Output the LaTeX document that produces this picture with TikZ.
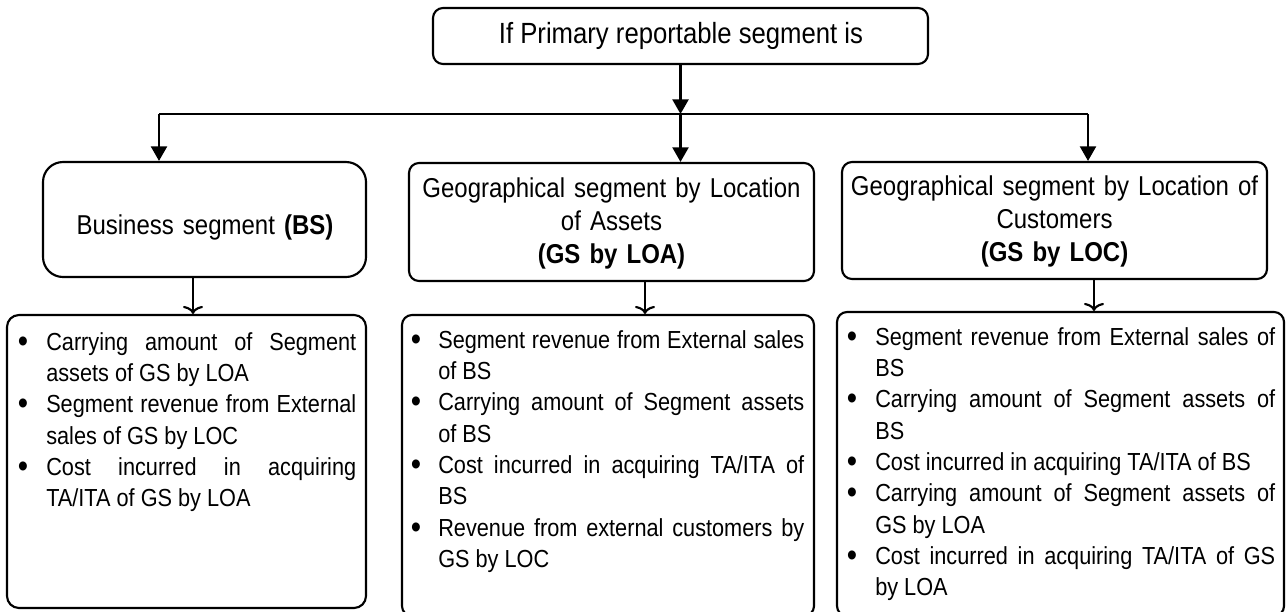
\documentclass[tikz,border=0pt]{standalone}
\usepackage{fontspec}
\setmainfont{Liberation Sans}[FakeStretch=0.88]
\usetikzlibrary{arrows.meta,fit}
\newlength\bind
\newcommand\lstsetup[1]{\hyphenpenalty=10000 \tolerance=10000 \parindent=0pt \parskip=0pt \setlength\bind{#1}}
\newcommand\bigbul{\raisebox{-0.09em}{\scalebox{1.35}{\textbullet}}}
\newcommand\myitem[1]{\hangindent=\bind\hangafter=1\noindent\makebox[\bind][l]{\hspace{2pt}\bigbul}#1\par}
\begin{document}
\begin{tikzpicture}[x=0.75pt,y=-0.75pt,
  box/.style={draw, line width=1.6pt, inner sep=0pt, rounded corners=7.5pt},
  ln/.style={line width=1.9pt},
  arr/.style={line width=1.9pt, -{Triangle[width=12pt,length=11pt]}},
  oarr/.style={line width=1.6pt, -{Computer Modern Rightarrow[width=15pt,length=6pt]}},
  toptext/.style={inner sep=0pt, font=\fontsize{21.9pt}{26pt}\selectfont},
  ttl/.style={inner sep=0pt, align=center, font=\fontsize{20.45pt}{25pt}\selectfont},
  lst/.style={inner sep=0pt, anchor=base west, align=justify,
    font=\fontsize{18.5pt}{23.5pt}\selectfont}
]
\useasboundingbox (0,0) rectangle (1287,611);

% top box
\node[box, fit={(433,8) (928,64)}] (top) {};
\node[toptext, anchor=base] (toptxt) at (681,43) {If Primary reportable segment is};

% second row boxes
\node[box, rounded corners=15pt, fit={(43,162) (366,277)}] (b1) {};
\node[box, fit={(409,163) (814,281)}] (b2) {};
\node[box, fit={(842,162) (1267,279)}] (b3) {};
\node[ttl, anchor=base, text width=300pt] (t1) at (205,234) {Business segment \textbf{(BS)}};
\node[ttl, anchor=base, text width=292pt] (t2) at (611.5,197) {Geographical segment by Location\\ of Assets\\ \textbf{(GS by LOA)}};
\node[ttl, anchor=base, text width=307pt] (t3) at (1054.5,195) {Geographical segment by Location of\\ Customers\\ \textbf{(GS by LOC)}};

% third row boxes
\node[box, rounded corners=9pt, fit={(7,315) (366,608)}] (b4) {};
\node[box, fit={(402,315) (814,616)}] (b5) {};
\node[box, fit={(837,312) (1284,616)}] (b6) {};

\node[lst, text width=255.75pt] (l4) at (15,350) {\lstsetup{23.25pt}%
\myitem{Carrying amount of Segment\linebreak assets of GS by LOA}%
\myitem{Segment revenue from External\linebreak sales of GS by LOC}%
\myitem{Cost incurred in acquiring\linebreak TA/ITA of GS by LOA}};

\node[lst, text width=297pt] (l5) at (408,348) {\lstsetup{22.5pt}%
\myitem{Segment revenue from External sales\linebreak of BS}%
\myitem{Carrying amount of Segment assets\linebreak of BS}%
\myitem{Cost incurred in acquiring TA/ITA of\linebreak BS}%
\myitem{Revenue from external customers by\linebreak GS by LOC}};

\node[lst, text width=323.25pt] (l6) at (844,345) {\lstsetup{23.25pt}%
\myitem{Segment revenue from External sales of\linebreak BS}%
\myitem{Carrying amount of Segment assets of\linebreak BS}%
\myitem{Cost incurred in acquiring TA/ITA of BS}%
\myitem{Carrying amount of Segment assets of\linebreak GS by LOA}%
\myitem{Cost incurred in acquiring TA/ITA of GS\linebreak by LOA}};

% connectors
\coordinate (jL) at (159,114);
\coordinate (jM) at (680.5,114);
\coordinate (jR) at (1088,114);
\coordinate (k1) at (193,0);
\coordinate (k2) at (645,0);
\coordinate (k3) at (1094,0);

\draw[arr] (top.south) -- (jM);
\draw[ln] (jL) -- (jR);
\draw[arr] (jL) -- (jL |- b1.north);
\draw[arr] (jM) -- (jM |- b2.north);
\draw[arr] (jR) -- (jR |- b3.north);

\draw[oarr] (b1.south -| k1) -- (b4.north -| k1);
\draw[oarr] (b2.south -| k2) -- (b5.north -| k2);
\draw[oarr] (b3.south -| k3) -- (b6.north -| k3);
\end{tikzpicture}
\end{document}
